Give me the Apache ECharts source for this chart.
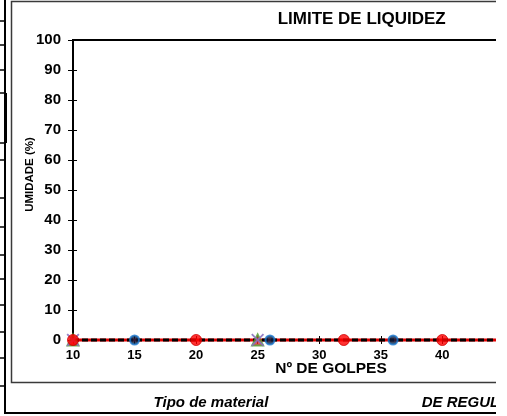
<!DOCTYPE html>
<html>
<head>
<meta charset="utf-8">
<script src="https://cdn.jsdelivr.net/npm/echarts@6/dist/echarts.min.js"></script>
<style>
html,body{margin:0;padding:0;background:#fff;}
#c{width:507px;height:416px;}
</style>
</head>
<body>
<div id="c"></div>
<script>
// ---- data ----
const chartTitle = 'LIMITE DE LIQUIDEZ';
const xTitle = 'Nº DE GOLPES';
const yTitle = 'UMIDADE (%)';
const footLeft = 'Tipo de material';
const footRight = 'DE REGUL';
const xMin = 10, xMax = 50, xStep = 5;
const yMin = 0, yMax = 100, yStep = 10;
const redX = [10, 20, 32, 40];
const redY = [0, 0, 0, 0];
const blueX = [15, 26, 36];
const blueY = [0, 0, 0];
const triX = [10, 25];
const triY = [0, 0];
const crossX = [10, 25];
const crossY = [0, 0];
const trendX = [10, 50];
const trendY = [0, 0];
const leftCellLines = [21, 45, 70, 93, 143, 160, 198, 227, 255, 279, 305, 332, 358, 386];

const zip = (a, b) => a.map((v, i) => [v, b[i]]);
const FONT = '"Liberation Sans", Arial, sans-serif';
const crossPath = 'path://M0,1L1,0L5,4L9,0L10,1L6,5L10,9L9,10L5,6L1,10L0,9L4,5Z';

const chart = echarts.init(document.getElementById('c'), null, {renderer: 'canvas'});

const graphics = [
  {type: 'rect', shape: {x: 11.5, y: 1.5, width: 600, height: 381}, style: {fill: 'none', stroke: '#3a3a3a', lineWidth: 1.5}, z: 0},
  {type: 'line', shape: {x1: 5, y1: 0, x2: 5, y2: 414}, style: {stroke: '#000', lineWidth: 2}, z: 0},
  {type: 'rect', shape: {x: 4, y: 93, width: 3, height: 50}, style: {fill: '#000'}, z: 0},
  {type: 'line', shape: {x1: 4, y1: 413, x2: 600, y2: 413}, style: {stroke: '#000', lineWidth: 2}, z: 0},
  {type: 'text', x: 361.7, y: 19.2, style: {text: chartTitle, font: 'bold 17px ' + FONT, fill: '#000', align: 'center', verticalAlign: 'middle'}, z: 5},
  {type: 'text', x: 331, y: 369, style: {text: xTitle, font: 'bold 15.5px ' + FONT, fill: '#000', align: 'center', verticalAlign: 'middle'}, z: 5},
  {type: 'text', x: 29.5, y: 174.5, rotation: Math.PI / 2, style: {text: yTitle, font: 'bold 11.5px ' + FONT, fill: '#000', align: 'center', verticalAlign: 'middle'}, z: 5},
  {type: 'text', x: 211, y: 403, style: {text: footLeft, font: 'italic bold 15px ' + FONT, fill: '#000', align: 'center', verticalAlign: 'middle'}, z: 5},
  {type: 'text', x: 421.7, y: 403, style: {text: footRight, font: 'italic bold 15px ' + FONT, fill: '#000', align: 'left', verticalAlign: 'middle'}, z: 5},
  {type: 'rect', shape: {x: 496, y: 0, width: 20, height: 416}, style: {fill: '#fff'}, z: 100}
];
leftCellLines.forEach(y => graphics.push({type: 'line', shape: {x1: 0, y1: y, x2: 6, y2: y}, style: {stroke: '#000', lineWidth: 1.5}, z: 0}));

const axisLabelY = {fontFamily: FONT, fontWeight: 'bold', fontSize: 15, color: '#000', margin: 12};
const axisLabelX = {fontFamily: FONT, fontWeight: 'bold', fontSize: 13, color: '#000', margin: 9};

chart.setOption({
  animation: false,
  backgroundColor: '#fff',
  graphic: graphics,
  grid: {left: 73, top: 40, width: 492.4, height: 300, outerBoundsMode: 'none', containLabel: false,
         show: true, borderColor: '#000', borderWidth: 2, backgroundColor: 'transparent'},
  xAxis: [
    {type: 'value', min: xMin, max: xMax, interval: xStep, position: 'bottom',
     axisLine: {show: true, lineStyle: {color: '#000', width: 2}},
     axisTick: {show: true, inside: false, length: 4, lineStyle: {color: '#000', width: 1}},
     axisLabel: axisLabelX, splitLine: {show: false}},
    {type: 'value', min: xMin, max: xMax, interval: xStep, position: 'bottom',
     axisLine: {show: false}, axisTick: {show: true, inside: true, length: 4, lineStyle: {color: '#000', width: 1}},
     axisLabel: {show: false}, splitLine: {show: false}}
  ],
  yAxis: [
    {type: 'value', min: yMin, max: yMax, interval: yStep, position: 'left',
     axisLine: {show: true, lineStyle: {color: '#000', width: 2}},
     axisTick: {show: true, inside: false, length: 5, lineStyle: {color: '#000', width: 1}},
     axisLabel: axisLabelY, splitLine: {show: false}},
    {type: 'value', min: yMin, max: yMax, interval: yStep, position: 'left',
     axisLine: {show: false}, axisTick: {show: true, inside: true, length: 4, lineStyle: {color: '#000', width: 1}},
     axisLabel: {show: false}, splitLine: {show: false}}
  ],
  series: [
    {type: 'line', data: zip(trendX, trendY), showSymbol: false, clip: false, z: 3,
     lineStyle: {color: '#e00000', width: 3}},
    {type: 'line', data: zip(trendX, trendY), showSymbol: false, clip: false, z: 4,
     lineStyle: {color: '#000', width: 3, type: [6, 3]}},
    {type: 'scatter', data: zip(triX, triY), symbol: 'triangle', symbolSize: 11, clip: false, z: 5,
     itemStyle: {color: '#e02a2a', borderColor: '#4f9a2e', borderWidth: 2}},
    {type: 'scatter', data: zip(crossX, crossY), symbol: crossPath, symbolSize: 13, clip: false, z: 6,
     itemStyle: {color: '#8a72c0', opacity: 0.9}},
    {type: 'scatter', data: zip(blueX, blueY), symbol: 'circle', symbolSize: 9, clip: false, z: 7,
     itemStyle: {color: '#0a1e40', borderColor: '#1b78d0', borderWidth: 2}},
    {type: 'scatter', data: zip(redX, redY), symbol: 'circle', symbolSize: 11, clip: false, z: 8,
     itemStyle: {color: '#ff0000', borderColor: '#d00000', borderWidth: 1}}
  ]
});
</script>
</body>
</html>
